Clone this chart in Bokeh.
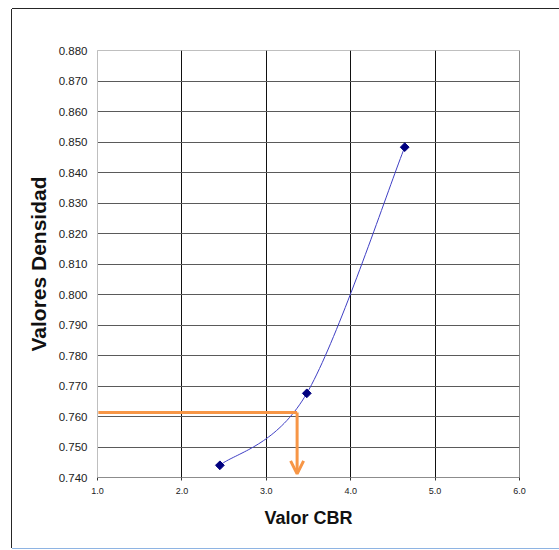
import numpy as np
from bokeh.plotting import figure
from bokeh.models import FixedTicker, NumeralTickFormatter, Span, Arrow, OpenHead, Range1d
from bokeh.embed import file_html
from bokeh.resources import INLINE

# Measured points: CBR value vs. density
cbr = [2.45, 3.48, 4.64]
densidad = [0.7440, 0.7676, 0.8483]

densidad_lectura = 0.7613
cbr_lectura = 3.365

x_ticks = [1.0, 2.0, 3.0, 4.0, 5.0, 6.0]
y_ticks = [round(0.74 + 0.01 * i, 3) for i in range(15)]

X0, X1 = 1.0, 6.0
Y0, Y1 = 0.740, 0.880
FW, FH = 422, 427

p = figure(width=547, height=539, frame_width=FW, frame_height=FH,
           margin=(9, 0, 0, 12),
           x_range=Range1d(X0, X1), y_range=Range1d(Y0, Y1),
           output_backend="svg", toolbar_location=None,
           min_border_left=85, min_border_right=40,
           min_border_top=41, min_border_bottom=71)
# thin border around the whole chart (left/top dark, bottom light blue)
p.styles = {"box-shadow": "-1px 0 0 0 #262626, 0 -1px 0 0 #262626, 0 1px 0 0 #8eb4e3"}
p.background_fill_color = "white"
p.border_fill_color = "white"
p.outline_line_color = "#bfbfbf"

# grid
p.xgrid.ticker = FixedTicker(ticks=[2.0, 3.0, 4.0, 5.0])
p.xgrid.grid_line_color = "#111111"
p.xgrid.grid_line_width = 1
p.ygrid.ticker = FixedTicker(ticks=y_ticks[1:-1])
p.ygrid.grid_line_color = "#5a5a5a"
p.ygrid.grid_line_width = 1

# darker right and bottom edges
p.add_layout(Span(location=X1, dimension="height", line_color="#5a5a5a", line_width=1))
p.add_layout(Span(location=Y0, dimension="width", line_color="#5a5a5a", line_width=1))

# axes
p.xaxis.ticker = FixedTicker(ticks=x_ticks)
p.xaxis.formatter = NumeralTickFormatter(format="0.0")
p.xaxis.axis_line_color = None
p.xaxis.major_tick_out = 3
p.xaxis.major_tick_in = 0
p.xaxis.major_tick_line_color = "#333333"
p.xaxis.minor_tick_line_color = None
p.xaxis.major_label_text_font = "Liberation Sans"
p.xaxis.major_label_text_font_size = "9px"
p.xaxis.major_label_text_color = "#222222"
p.xaxis.major_label_standoff = 7
p.xaxis.axis_label = "Valor CBR"
p.xaxis.axis_label_text_font = "Liberation Sans"
p.xaxis.axis_label_text_font_style = "bold"
p.xaxis.axis_label_text_font_size = "18px"
p.xaxis.axis_label_text_color = "#111111"
p.xaxis.axis_label_standoff = 11

p.yaxis.ticker = FixedTicker(ticks=y_ticks)
p.yaxis.formatter = NumeralTickFormatter(format="0.000")
p.yaxis.axis_line_color = "#bfbfbf"
p.yaxis.major_tick_out = 0
p.yaxis.major_tick_in = 0
p.yaxis.minor_tick_line_color = None
p.yaxis.major_label_text_font = "Liberation Sans"
p.yaxis.major_label_text_font_size = "11.5px"
p.yaxis.major_label_text_color = "#222222"
p.yaxis.major_label_standoff = 10
p.yaxis.axis_label = "Valores Densidad"
p.yaxis.axis_label_text_font = "Liberation Sans"
p.yaxis.axis_label_text_font_style = "bold"
p.yaxis.axis_label_text_font_size = "21px"
p.yaxis.axis_label_text_color = "#111111"
p.yaxis.axis_label_standoff = 6


# smoothed line through the points (Catmull-Rom, in frame pixel space)
def smooth(xs, ys, n=40):
    u = [(x - X0) / (X1 - X0) * FW for x in xs]
    v = [(y - Y0) / (Y1 - Y0) * FH for y in ys]
    pts = list(zip(u, v))
    out_u, out_v = [], []
    for i in range(len(pts) - 1):
        p0 = pts[i - 1] if i > 0 else pts[i]
        p1 = pts[i]
        p2 = pts[i + 1]
        p3 = pts[i + 2] if i + 2 < len(pts) else pts[i + 1]
        c1 = (p1[0] + (p2[0] - p0[0]) / 6, p1[1] + (p2[1] - p0[1]) / 6)
        c2 = (p2[0] - (p3[0] - p1[0]) / 6, p2[1] - (p3[1] - p1[1]) / 6)
        t = np.linspace(0, 1, n)
        for a, b in ((0, out_u), (1, out_v)):
            b.extend(((1 - t) ** 3 * p1[a] + 3 * (1 - t) ** 2 * t * c1[a]
                      + 3 * (1 - t) * t ** 2 * c2[a] + t ** 3 * p2[a]).tolist())
    xs_s = [X0 + uu / FW * (X1 - X0) for uu in out_u]
    ys_s = [Y0 + vv / FH * (Y1 - Y0) for vv in out_v]
    return xs_s, ys_s


sx, sy = smooth(cbr, densidad)
p.line(sx, sy, line_color="#3f3fc4", line_width=1)

# reading guide in orange
orange = "#f79646"
p.line([X0 + 0.01, cbr_lectura], [densidad_lectura, densidad_lectura],
       line_color=orange, line_width=3)
p.add_layout(Arrow(x_start=cbr_lectura, y_start=densidad_lectura,
                   x_end=cbr_lectura, y_end=Y0 + 0.0012,
                   line_color=orange, line_width=3,
                   end=OpenHead(size=13, line_color=orange, line_width=3)))

# diamond markers (rotated squares)
p.scatter(cbr, densidad, marker="square", size=6.2, angle=np.pi / 4,
          fill_color="#00007f", line_color="#00007f")

open("out.html", "w").write(file_html(p, INLINE))
